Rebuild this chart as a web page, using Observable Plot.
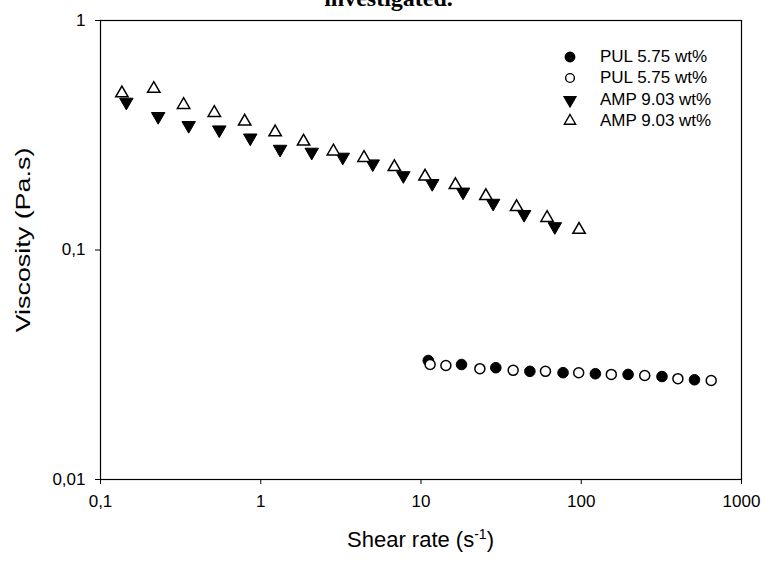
<!DOCTYPE html>
<html>
<head>
<meta charset="utf-8">
<script src="https://cdn.jsdelivr.net/npm/d3@7"></script>
<script src="https://cdn.jsdelivr.net/npm/@observablehq/plot@0.6"></script>
<style>
  html, body { margin: 0; padding: 0; background: #fff; }
  #wrap { position: relative; width: 765px; height: 563px; overflow: hidden; font-family: "Liberation Sans", Arial, sans-serif; }
  #title { position: absolute; left: 6px; width: 765px; top: -15px; text-align: center; font-family: "Liberation Serif", "Times New Roman", serif; font-weight: bold; font-size: 24px; box-sizing: border-box; }
  #xlabel { position: absolute; left: 100px; width: 641px; top: 527px; text-align: center; font-size: 22px; line-height: 26px; }
  #ylabel { position: absolute; left: 23px; top: 240px; transform: translate(-50%, -50%) rotate(-90deg) scaleX(1.28); font-size: 21px; white-space: nowrap; }
  #legend { position: absolute; left: 562px; top: 46px; font-size: 17px; }
  .row { display: flex; align-items: center; height: 21.5px; }
  .row svg { width: 16px; height: 16px; margin-right: 22px; }
</style>
</head>
<body>
<div id="wrap">
  <div id="title">investigated.</div>
  <div id="chart"></div>
  <div id="xlabel">Shear rate (s<sup style="font-size:14px; line-height:0">-1</sup>)</div>
  <div id="ylabel">Viscosity (Pa.s)</div>
  <div id="legend"></div>
</div>
<script>
// Series names
const seriesNames = ["PUL 5.75 wt%", "PUL 5.75 wt%", "AMP 9.03 wt%", "AMP 9.03 wt%"];

// PUL 5.75 wt% (filled circles)
const pulFilledX = [11.1, 17.9, 29.3, 47.8, 77.0, 122.5, 196, 319, 509];
const pulFilledY = [0.0330, 0.0317, 0.0307, 0.0296, 0.0292, 0.0289, 0.0287, 0.0281, 0.0272];

// PUL 5.75 wt% (open circles)
const pulOpenX = [11.4, 14.3, 23.3, 37.6, 59.8, 96.4, 154, 249, 401, 647];
const pulOpenY = [0.0317, 0.0314, 0.0304, 0.0299, 0.0296, 0.0292, 0.0287, 0.0284, 0.0275, 0.0270];

// AMP 9.03 wt% (filled down triangles)
const ampFilledX = [0.145, 0.229, 0.355, 0.551, 0.86, 1.32, 2.08, 3.25, 5.0, 7.76, 11.75, 18.3, 28.2, 44.0, 68.4];
const ampFilledY = [0.441, 0.382, 0.349, 0.334, 0.308, 0.275, 0.267, 0.254, 0.2375, 0.211, 0.195, 0.179, 0.160, 0.143, 0.1265];

// AMP 9.03 wt% (open up triangles)
const ampOpenX = [0.136, 0.215, 0.330, 0.513, 0.794, 1.23, 1.85, 2.84, 4.41, 6.82, 10.6, 16.4, 25.4, 39.5, 61.2, 96.9];
const ampOpenY = [0.482, 0.504, 0.429, 0.396, 0.363, 0.326, 0.297, 0.269, 0.252, 0.230, 0.209, 0.192, 0.172, 0.154, 0.138, 0.1225];

// Tick values and labels
const xTicks = [0.1, 1, 10, 100, 1000];
const xTickLabels = ["0,1", "1", "10", "100", "1000"];
const yTicks = [0.01, 0.1, 1];
const yTickLabels = ["0,01", "0,1", "1"];

const toRows = (xs, ys) => xs.map((x, i) => ({x, y: ys[i]}));
const fmtFrom = (ticks, labels) => (d) => {
  let best = 0;
  ticks.forEach((t, i) => { if (Math.abs(Math.log10(t) - Math.log10(d)) < Math.abs(Math.log10(ticks[best]) - Math.log10(d))) best = i; });
  return labels[best];
};

// custom symbols
const triDown = {
  draw(context, size) {
    const y = -Math.sqrt(size / (Math.sqrt(3) * 3));
    context.moveTo(0, -y * 2);
    context.lineTo(-Math.sqrt(3) * y, y);
    context.lineTo(Math.sqrt(3) * y, y);
    context.closePath();
  }
};
const triUp = {
  draw(context, size) {
    const y = -Math.sqrt(size / (Math.sqrt(3) * 3));
    context.moveTo(0, y * 2);
    context.lineTo(-Math.sqrt(3) * y, -y);
    context.lineTo(Math.sqrt(3) * y, -y);
    context.closePath();
  }
};

const chart = Plot.plot({
  width: 765,
  height: 563,
  marginLeft: 100,
  marginRight: 24,
  marginTop: 20,
  marginBottom: 84,
  style: {fontFamily: "'Liberation Sans', Arial, sans-serif", fontSize: "17px", color: "#000", background: "transparent"},
  x: {type: "log", domain: [0.1, 1000]},
  y: {type: "log", domain: [0.01, 1]},
  marks: [
    Plot.frame({stroke: "#000", strokeWidth: 1.2}),
    Plot.axisX({ticks: xTicks, tickSize: 5, tickPadding: 10, tickFormat: fmtFrom(xTicks, xTickLabels), label: null, stroke: "#000", fill: "#000", fontSize: 17}),
    Plot.axisY({ticks: yTicks, tickSize: 5, tickPadding: 10, tickFormat: fmtFrom(yTicks, yTickLabels), label: null, stroke: "#000", fill: "#000", fontSize: 17}),
    Plot.dot(toRows(pulFilledX, pulFilledY), {x: "x", y: "y", r: 5.3, symbol: "circle", fill: "#000", stroke: "#000", strokeWidth: 1}),
    Plot.dot(toRows(pulOpenX, pulOpenY), {x: "x", y: "y", r: 5, symbol: "circle", fill: "#fff", stroke: "#000", strokeWidth: 1.5}),
    Plot.dot(toRows(ampFilledX, ampFilledY), {x: "x", y: "y", r: 5, symbol: triDown, fill: "#000", stroke: "#000", strokeWidth: 1}),
    Plot.dot(toRows(ampOpenX, ampOpenY), {x: "x", y: "y", r: 4.6, symbol: triUp, fill: "#fff", stroke: "#000", strokeWidth: 1.5})
  ]
});
document.getElementById("chart").appendChild(chart);

// Legend
const legendSyms = [
  {sym: d3.symbolCircle, fill: "#000", size: 70},
  {sym: d3.symbolCircle, fill: "#fff", size: 60},
  {sym: triDown, fill: "#000", size: 60},
  {sym: triUp, fill: "#fff", size: 55}
];
const legend = document.getElementById("legend");
seriesNames.forEach((name, i) => {
  const row = document.createElement("div");
  row.className = "row";
  const s = d3.create("svg").attr("viewBox", "-8 -8 16 16");
  s.append("path").attr("d", d3.symbol(legendSyms[i].sym, legendSyms[i].size)()).attr("fill", legendSyms[i].fill).attr("stroke", "#000").attr("stroke-width", 1.4);
  row.appendChild(s.node());
  const t = document.createElement("span");
  t.textContent = name;
  row.appendChild(t);
  legend.appendChild(row);
});
</script>
</body>
</html>
